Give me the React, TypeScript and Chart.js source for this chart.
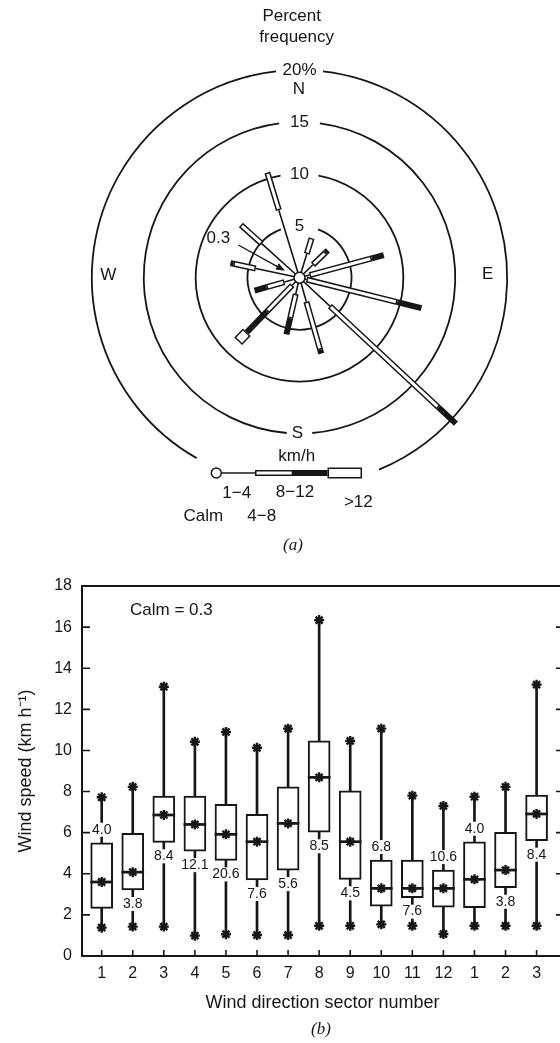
import React, { useEffect, useRef } from 'react';
import { Chart, registerables } from 'chart.js';

Chart.register(...registerables);

const SANS = '"Liberation Sans", Arial, Helvetica, sans-serif';
const SERIF = '"Liberation Serif", "Times New Roman", serif';
const INK = '#161616';

// ---------- (a) wind rose: percent frequency per direction sector and speed class ----------
const roseSectors = ['1', '2', '3', '4', '5', '6', '7', '8', '9', '10', '11', '12'];
const roseBearings = [17, 46, 75, 104, 133, 164, 193, 224, 254, 282, 312, 343];
const pct1to4 = [2.4, 1.8, 1.0, 0.7, 4.0, 2.4, 1.6, 1.0, 1.5, 4.3, 4.9, 6.8];
const pct4to8 = [1.6, 1.7, 6.2, 9.0, 14.3, 4.8, 2.4, 3.5, 1.8, 2.2, 2.7, 3.8];
const pct8to12 = [0, 0.3, 1.2, 2.4, 2.3, 0.4, 1.6, 2.8, 1.2, 0.3, 0, 0];
const pctOver12 = [0, 0, 0, 0, 0, 0, 0, 1.2, 0, 0, 0, 0];
const calmPct = 0.3;
const ringLevels = [5, 10, 15, 20];
const ringLabels = ['5', '10', '15', '20%'];
const speedClassLabels = ['Calm', '1\u22124', '4\u22128', '8\u221212', '>12'];

// ---------- (b) box plots of wind speed by sector ----------
const sectorTicks = ['1', '2', '3', '4', '5', '6', '7', '8', '9', '10', '11', '12', '1', '2', '3'];
const sectorFreq = ['4.0', '3.8', '8.4', '12.1', '20.6', '7.6', '5.6', '8.5', '4.5', '6.8', '7.6', '10.6', '4.0', '3.8', '8.4'];
const freqAbove = [true, false, false, false, false, false, false, false, false, true, false, true, true, false, false];
const speedMin = [1.38, 1.43, 1.43, 0.99, 1.06, 1.02, 1.02, 1.47, 1.47, 1.54, 1.47, 1.07, 1.47, 1.47, 1.47];
const speedQ1 = [2.32, 3.21, 5.53, 5.1, 4.65, 3.7, 4.18, 6.02, 3.73, 2.43, 2.84, 2.37, 2.35, 3.32, 5.61];
const speedMedian = [3.6, 4.08, 6.86, 6.4, 5.92, 5.56, 6.45, 8.69, 5.56, 3.29, 3.29, 3.29, 3.73, 4.18, 6.91];
const speedQ3 = [5.51, 5.97, 7.78, 7.78, 7.38, 6.89, 8.23, 10.47, 8.04, 4.67, 4.67, 4.18, 5.56, 6.02, 7.83];
const speedMax = [7.72, 8.23, 13.1, 10.42, 10.9, 10.13, 11.06, 16.34, 10.46, 11.06, 7.8, 7.3, 7.75, 8.23, 13.2];
const speedTicks = [0, 2, 4, 6, 8, 10, 12, 14, 16, 18];

// ---------- helpers ----------
const rad = (d: number) => (d * Math.PI) / 180;
const polar = (r: number, b: number) => ({ x: r * Math.sin(rad(b)), y: r * Math.cos(rad(b)) });

const c0 = roseBearings.map(() => 0);
const c1 = pct1to4.map((v) => v);
const c2 = c1.map((v, i) => v + pct4to8[i]);
const c3 = c2.map((v, i) => v + pct8to12[i]);
const c4 = c3.map((v, i) => v + pctOver12[i]);

function spokeSegments(from: number[], to: number[], inset = 0) {
  const pts: any[] = [];
  roseBearings.forEach((b, i) => {
    if (to[i] - from[i] <= 0) return;
    pts.push(polar(from[i] + inset, b), polar(to[i] - inset, b), { x: null, y: null });
  });
  return pts;
}

function lineLayer(label: string, data: any[], color: string, width: number, order: number) {
  return {
    type: 'scatter',
    label,
    data,
    showLine: true,
    spanGaps: false,
    borderColor: color,
    backgroundColor: color,
    borderWidth: width,
    borderCapStyle: 'butt',
    pointRadius: 0,
    pointHoverRadius: 0,
    order,
  };
}

function text(ctx: CanvasRenderingContext2D, s: string, x: number, y: number, font: string, align: CanvasTextAlign = 'center') {
  ctx.font = font;
  ctx.textAlign = align;
  ctx.textBaseline = 'middle';
  ctx.fillStyle = INK;
  ctx.fillText(s, x, y);
}

const roseDeco = {
  id: 'roseDeco',
  beforeDatasetsDraw(chart: any) {
    const { ctx, scales } = chart;
    const cx = scales.x.getPixelForValue(0);
    const cy = scales.y.getPixelForValue(0);
    const unit = scales.x.getPixelForValue(1) - cx;
    const gaps = [
      [[-21, 21]],
      [[-10.5, 10.5]],
      [[-7.5, 7.5], [175.3, 184.7]],
      [[-6.5, 6.5], [157.5, 209.7]],
    ];
    ctx.save();
    ctx.strokeStyle = INK;
    ctx.lineWidth = 1.8;
    ringLevels.forEach((lvl, k) => {
      const r = lvl * unit;
      const g = gaps[k];
      for (let j = 0; j < g.length; j++) {
        const start = g[j][1];
        const end = j + 1 < g.length ? g[j + 1][0] : g[0][0] + 360;
        ctx.beginPath();
        ctx.arc(cx, cy, r, rad(start - 90), rad(end - 90), false);
        ctx.stroke();
      }
    });
    ctx.restore();
  },
  afterDatasetsDraw(chart: any) {
    const { ctx, scales } = chart;
    const cx = scales.x.getPixelForValue(0);
    const cy = scales.y.getPixelForValue(0);
    const unit = scales.x.getPixelForValue(1) - cx;
    const f = `17px ${SANS}`;
    ctx.save();
    text(ctx, 'Percent', 291.7, 16.7, f);
    text(ctx, 'frequency', 296.7, 37.3, f);
    ringLevels.forEach((lvl, k) => text(ctx, ringLabels[k], cx, cy - lvl * unit, f));
    text(ctx, 'N', 299, 89.5, f);
    text(ctx, 'W', 108.3, 275, f);
    text(ctx, 'E', 487.7, 274.5, f);
    text(ctx, 'S', 297.3, 433.5, f);
    text(ctx, 'km/h', 296.7, 456.7, f);
    text(ctx, String(calmPct), 218.3, 238.3, f);

    // calm arrow
    const ax0 = 238.3, ay0 = 245, ax1 = 285, ay1 = 270.7;
    const ang = Math.atan2(ay1 - ay0, ax1 - ax0);
    ctx.strokeStyle = INK;
    ctx.fillStyle = INK;
    ctx.lineWidth = 1.4;
    ctx.beginPath();
    ctx.moveTo(ax0, ay0);
    ctx.lineTo(ax1 - 6 * Math.cos(ang), ay1 - 6 * Math.sin(ang));
    ctx.stroke();
    ctx.beginPath();
    ctx.moveTo(ax1, ay1);
    ctx.lineTo(ax1 - 9 * Math.cos(ang) + 3.5 * Math.sin(ang), ay1 - 9 * Math.sin(ang) - 3.5 * Math.cos(ang));
    ctx.lineTo(ax1 - 9 * Math.cos(ang) - 3.5 * Math.sin(ang), ay1 - 9 * Math.sin(ang) + 3.5 * Math.cos(ang));
    ctx.closePath();
    ctx.fill();

    // legend key
    const ly = 473;
    ctx.lineWidth = 1.5;
    ctx.beginPath();
    ctx.moveTo(221, ly);
    ctx.lineTo(256, ly);
    ctx.stroke();
    ctx.fillStyle = INK;
    ctx.fillRect(255, ly - 3, 37, 6);
    ctx.fillStyle = '#fff';
    ctx.fillRect(256.5, ly - 1.5, 35.5, 3);
    ctx.fillStyle = INK;
    ctx.fillRect(291.7, ly - 3, 35.8, 6);
    ctx.fillRect(327.5, ly - 5.5, 34.5, 11);
    ctx.fillStyle = '#fff';
    ctx.fillRect(329, ly - 4, 31.5, 8);
    ctx.beginPath();
    ctx.arc(216.3, ly, 5, 0, Math.PI * 2);
    ctx.fill();
    ctx.stroke();

    text(ctx, speedClassLabels[1], 236.7, 493.3, f);
    text(ctx, speedClassLabels[3], 295, 492.7, f);
    text(ctx, speedClassLabels[4], 358.3, 502.7, f);
    text(ctx, speedClassLabels[0], 203.3, 516, f);
    text(ctx, speedClassLabels[2], 261.7, 516, f);
    text(ctx, '(a)', 293, 546, `italic 17px ${SERIF}`);
    ctx.restore();
  },
};

const boxDeco = {
  id: 'boxDeco',
  afterDatasetsDraw(chart: any) {
    const { ctx, chartArea: a, scales } = chart;
    const xs = scales.x;
    const ys = scales.y;
    ctx.save();
    ctx.strokeStyle = INK;
    ctx.lineWidth = 2;
    ctx.strokeRect(a.left, a.top, a.right - a.left, a.bottom - a.top);
    ctx.lineWidth = 1.6;
    speedTicks.slice(1, -1).forEach((v) => {
      const py = ys.getPixelForValue(v);
      ctx.beginPath();
      ctx.moveTo(a.left, py);
      ctx.lineTo(a.left + 8, py);
      ctx.moveTo(a.right, py);
      ctx.lineTo(a.right - 7, py);
      ctx.stroke();
    });
    sectorTicks.forEach((_, i) => {
      const px = xs.getPixelForValue(i + 1);
      ctx.beginPath();
      ctx.moveTo(px, a.bottom);
      ctx.lineTo(px, a.bottom - 6);
      ctx.stroke();
    });
    // frequency labels (percent of time in each sector)
    const lf = `14px ${SANS}`;
    ctx.font = lf;
    sectorFreq.forEach((s, i) => {
      const px = xs.getPixelForValue(i + 1);
      const py = freqAbove[i] ? ys.getPixelForValue(speedQ3[i]) - 13 : ys.getPixelForValue(speedQ1[i]) + 14;
      const w = ctx.measureText(s).width;
      ctx.fillStyle = '#fff';
      ctx.fillRect(px - w / 2 - 1.5, py - 7, w + 3, 14);
      text(ctx, s, px, py, lf);
      ctx.font = lf;
    });
    text(ctx, `Calm = ${calmPct}`, a.left + 48, a.top + 24, `17px ${SANS}`, 'left');
    text(ctx, '(b)', 321, 470, `italic 17px ${SERIF}`);
    ctx.restore();
  },
};

export default function App() {
  const roseRef = useRef<HTMLCanvasElement>(null);
  const boxRef = useRef<HTMLCanvasElement>(null);

  useEffect(() => {
    const rose = new Chart(roseRef.current as HTMLCanvasElement, {
      type: 'scatter',
      data: {
        datasets: [
          lineLayer('1\u22124 km/h', spokeSegments(c0, c1), INK, 1.6, 20),
          lineLayer('4\u22128 km/h outline', spokeSegments(c1, c2), INK, 6, 19),
          lineLayer('4\u22128 km/h', spokeSegments(c1, c2, 0.14), '#fff', 3, 18),
          lineLayer('8\u221212 km/h', spokeSegments(c2, c3), INK, 6, 17),
          lineLayer('>12 km/h outline', spokeSegments(c3, c4), INK, 11, 16),
          lineLayer('>12 km/h', spokeSegments(c3, c4, 0.14), '#fff', 8, 15),
          {
            type: 'scatter',
            label: 'Calm',
            data: [{ x: 0, y: 0 }],
            showLine: false,
            pointRadius: 5.5,
            pointBackgroundColor: '#fff',
            pointBorderColor: INK,
            pointBorderWidth: 1.5,
            order: 0,
          },
        ] as any,
      },
      options: {
        responsive: false,
        animation: false,
        events: [],
        layout: { padding: 0 },
        plugins: { legend: { display: false }, tooltip: { enabled: false } },
        scales: {
          x: { type: 'linear', display: false, min: -28.169, max: 24.413 },
          y: { type: 'linear', display: false, min: -26.507, max: 26.075 },
        },
      },
      plugins: [roseDeco],
    } as any);

    const xPos = sectorTicks.map((_, i) => i + 1);
    const box = new Chart(boxRef.current as HTMLCanvasElement, {
      type: 'bar',
      data: {
        datasets: [
          {
            type: 'scatter',
            label: 'extremes and median',
            data: [
              ...xPos.map((x, i) => ({ x, y: speedMin[i] })),
              ...xPos.map((x, i) => ({ x, y: speedMax[i] })),
              ...xPos.map((x, i) => ({ x, y: speedMedian[i] })),
            ],
            pointStyle: 'star',
            pointRadius: 5,
            pointBorderWidth: 2.4,
            pointBorderColor: INK,
            pointBackgroundColor: INK,
            showLine: false,
            order: 1,
          },
          {
            type: 'bar',
            label: 'median',
            data: xPos.map((x, i) => ({ x, y: [speedMedian[i] - 0.05, speedMedian[i] + 0.05] })),
            backgroundColor: INK,
            borderWidth: 0,
            barThickness: 22,
            grouped: false,
            order: 2,
          },
          {
            type: 'bar',
            label: 'interquartile',
            data: xPos.map((x, i) => ({ x, y: [speedQ1[i], speedQ3[i]] })),
            backgroundColor: '#fff',
            borderColor: INK,
            borderWidth: 2,
            borderSkipped: false,
            barThickness: 22,
            grouped: false,
            order: 3,
          },
          {
            type: 'bar',
            label: 'lower whisker',
            data: xPos.map((x, i) => ({ x, y: [speedMin[i], speedQ1[i]] })),
            backgroundColor: INK,
            borderWidth: 0,
            barThickness: 2,
            grouped: false,
            order: 4,
          },
          {
            type: 'bar',
            label: 'upper whisker',
            data: xPos.map((x, i) => ({ x, y: [speedQ3[i], speedMax[i]] })),
            backgroundColor: INK,
            borderWidth: 0,
            barThickness: 2,
            grouped: false,
            order: 4,
          },
        ] as any,
      },
      options: {
        responsive: false,
        animation: false,
        events: [],
        layout: { padding: { top: 26, right: 37, left: 0, bottom: 0 } },
        plugins: { legend: { display: false }, tooltip: { enabled: false } },
        scales: {
          x: {
            type: 'linear',
            min: 0.366,
            max: 15.85,
            offset: false,
            grid: { display: false, drawTicks: false },
            border: { display: false },
            afterBuildTicks: (s: any) => {
              s.ticks = xPos.map((v) => ({ value: v }));
            },
            afterFit: (s: any) => {
              s.height = 87;
            },
            ticks: {
              color: INK,
              padding: 8,
              autoSkip: false,
              maxRotation: 0,
              font: { family: SANS, size: 16 },
              callback: (_v: any, i: number) => sectorTicks[i],
            },
            title: {
              display: true,
              text: 'Wind direction sector number',
              color: INK,
              font: { family: SANS, size: 18 },
              padding: { top: 0, bottom: 29.5 },
            },
          },
          y: {
            type: 'linear',
            min: speedTicks[0],
            max: speedTicks[speedTicks.length - 1],
            grid: { display: false, drawTicks: false },
            border: { display: false },
            afterBuildTicks: (s: any) => {
              s.ticks = speedTicks.map((v) => ({ value: v }));
            },
            afterFit: (s: any) => {
              s.width = 82;
            },
            ticks: {
              color: INK,
              padding: 10,
              font: { family: SANS, size: 16 },
            },
            title: {
              display: true,
              text: 'Wind speed (km h\u207B\u00B9)',
              color: INK,
              font: { family: SANS, size: 18 },
              padding: { top: 15, bottom: 0 },
            },
          },
        },
      },
      plugins: [boxDeco],
    } as any);

    return () => {
      rose.destroy();
      box.destroy();
    };
  }, []);

  return (
    <div
      style={{
        position: 'fixed',
        left: 0,
        top: 0,
        width: 560,
        height: 1043,
        overflow: 'hidden',
        background: '#fff',
      }}
    >
      <canvas
        ref={roseRef}
        width={560}
        height={560}
        style={{ position: 'absolute', left: 0, top: 0, width: 560, height: 560 }}
      />
      <canvas
        ref={boxRef}
        width={600}
        height={483}
        style={{ position: 'absolute', left: 0, top: 560, width: 600, height: 483 }}
      />
    </div>
  );
}
